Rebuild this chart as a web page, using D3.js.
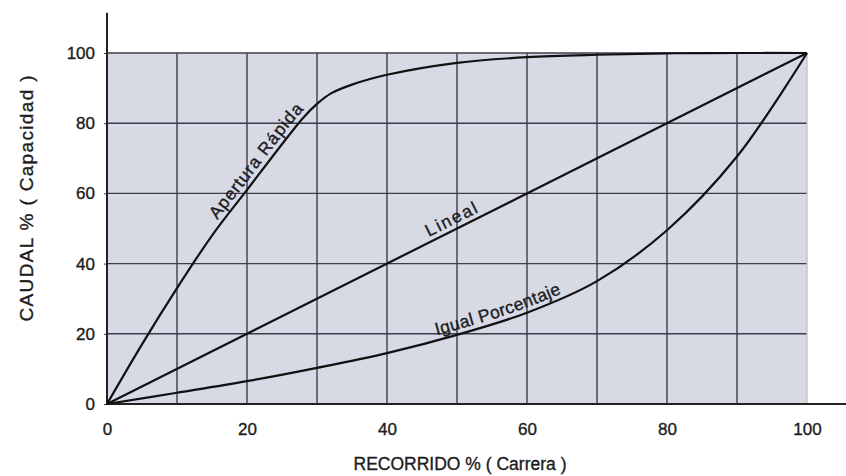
<!DOCTYPE html>
<html>
<head>
<meta charset="utf-8">
<script src="https://cdn.jsdelivr.net/npm/d3@7"></script>
<style>
  body { margin: 0; background: #fff; }
  text { font-family: "Liberation Sans", Arial, sans-serif; fill: #1c1c1c; stroke: #1c1c1c; stroke-width: 0.35px; }
</style>
</head>
<body>
<svg id="chart" width="846" height="476"></svg>
<script>
// data
const recorrido = [0, 10, 20, 30, 40, 50, 60, 70, 80, 90, 100];
const xTicks = [0, 20, 40, 60, 80, 100];
const yTicks = [0, 20, 40, 60, 80, 100];

const aperturaX = [0, 5, 10, 15, 20, 25, 28, 30, 32, 35, 40, 50, 60, 70, 80, 90, 100];
const aperturaY = [0, 17, 33, 48, 61, 74, 81.5, 85.5, 88.5, 91, 93.8, 97.2, 98.8, 99.5, 99.9, 100, 100];
const linealX = [0, 100];
const linealY = [0, 100];
const igualX = recorrido;
const igualY = [0, 3.2, 6.5, 10.3, 14.5, 19.7, 26, 35, 49.5, 70.5, 100];

const seriesNames = ["Apertura Rápida", "Lineal", "Igual Porcentaje"];
const labelStartX = [16.3, 46.3, 47.3];

const width = 846;
const height = 476;
const margin = { left: 107, right: 39, top: 53, bottom: 72 };

const svg = d3.select("#chart");

const x = d3.scaleLinear().domain([0, 100]).range([margin.left, width - margin.right]);
const y = d3.scaleLinear().domain([0, 100]).range([height - margin.bottom, margin.top]);

// fondo del área
svg.append("rect")
    .attr("x", x(0))
    .attr("y", y(100))
    .attr("width", x(100) - x(0))
    .attr("height", y(0) - y(100))
    .attr("fill", "#d7d9e5");

// rejilla
svg.append("g")
    .selectAll("line")
    .data(recorrido.slice(1, -1))
    .join("line")
    .attr("x1", d => x(d))
    .attr("x2", d => x(d))
    .attr("y1", y(0))
    .attr("y2", y(100))
    .attr("stroke", "#3c3c4a")
    .attr("stroke-width", 1.4);

svg.append("g")
    .selectAll("line")
    .data(yTicks.slice(1))
    .join("line")
    .attr("x1", x(0))
    .attr("x2", x(100))
    .attr("y1", d => y(d))
    .attr("y2", d => y(d))
    .attr("stroke", "#3c3c4a")
    .attr("stroke-width", 1.4);

// borde derecho claro
svg.append("line")
    .attr("x1", x(100))
    .attr("x2", x(100))
    .attr("y1", y(0))
    .attr("y2", y(100))
    .attr("stroke", "#b9bbc4")
    .attr("stroke-width", 1.2);

// ejes
const yAxis = svg.append("g")
    .attr("transform", `translate(${x(0)},0)`)
    .call(d3.axisLeft(y).tickValues(yTicks).tickSize(3).tickPadding(9));
yAxis.select(".domain").remove();
yAxis.selectAll("text").attr("font-size", 17).attr("font-family", "Liberation Sans, Arial, sans-serif").attr("fill", "#1c1c1c");
yAxis.selectAll("line").attr("stroke", "#333");

const xAxis = svg.append("g")
    .attr("transform", `translate(0,${y(0)})`)
    .call(d3.axisBottom(x).tickValues(xTicks).tickSize(0).tickPadding(19));
xAxis.select(".domain").remove();
xAxis.selectAll("text").attr("font-size", 17).attr("font-family", "Liberation Sans, Arial, sans-serif").attr("fill", "#1c1c1c");

svg.append("line")
    .attr("x1", x(0))
    .attr("x2", x(0))
    .attr("y1", y(0) + 1)
    .attr("y2", y(111.5))
    .attr("stroke", "#222")
    .attr("stroke-width", 2);

svg.append("line")
    .attr("x1", x(0) - 1)
    .attr("x2", width)
    .attr("y1", y(0))
    .attr("y2", y(0))
    .attr("stroke", "#222")
    .attr("stroke-width", 2);

// curvas
const line = d3.line()
    .x(d => x(d[0]))
    .y(d => y(d[1]))
    .curve(d3.curveCatmullRom.alpha(0.5));

const series = [
    d3.zip(aperturaX, aperturaY),
    d3.zip(linealX, linealY),
    d3.zip(igualX, igualY)
];

const paths = svg.append("g")
    .selectAll("path")
    .data(series)
    .join("path")
    .attr("id", (d, i) => "curva" + i)
    .attr("d", line)
    .attr("fill", "none")
    .attr("stroke", "#111")
    .attr("stroke-width", 2.2);

// distancia a lo largo de la curva hasta un valor de x
function lengthAtX(node, xv) {
    const px = x(xv);
    let lo = 0, hi = node.getTotalLength();
    for (let k = 0; k < 40; k++) {
        const mid = (lo + hi) / 2;
        if (node.getPointAtLength(mid).x < px) lo = mid; else hi = mid;
    }
    return lo;
}

// etiquetas sobre las curvas
const labelSpacing = [0.9, 1.8, 0.4];
paths.each(function (d, i) {
    svg.append("text")
        .attr("font-size", 17.5)
        .attr("letter-spacing", labelSpacing[i])
        .attr("dy", -5)
        .append("textPath")
        .attr("href", "#curva" + i)
        .attr("startOffset", lengthAtX(this, labelStartX[i]))
        .text(seriesNames[i]);
});

// títulos de los ejes
svg.append("text")
    .attr("x", 460)
    .attr("y", 470)
    .attr("text-anchor", "middle")
    .attr("font-size", 17.5)
    .text("RECORRIDO % ( Carrera )");

svg.append("text")
    .attr("transform", `translate(33,${(y(0) + y(100)) / 2 - 30}) rotate(-90)`)
    .attr("text-anchor", "middle")
    .attr("font-size", 19)
    .attr("textLength", 246)
    .attr("lengthAdjust", "spacing")
    .text("CAUDAL % ( Capacidad )");
</script>
</body>
</html>
